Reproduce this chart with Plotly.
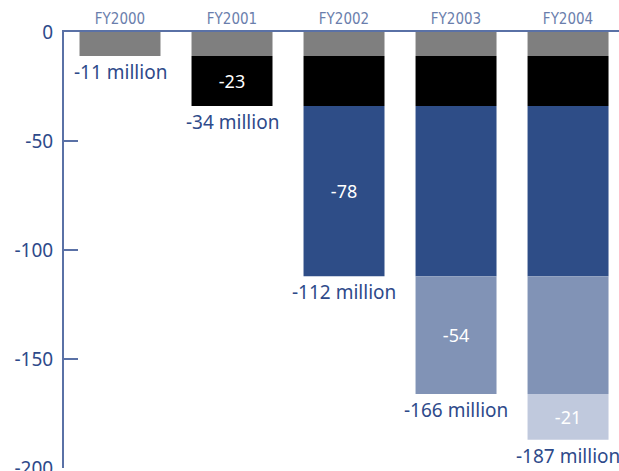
import plotly.graph_objects as go

categories = ["FY2000", "FY2001", "FY2002", "FY2003", "FY2004"]
series_names = ["FY2000 cut", "FY2001 cut", "FY2002 cut", "FY2003 cut", "FY2004 cut"]
series_values = [
    [-11, -11, -11, -11, -11],
    [None, -23, -23, -23, -23],
    [None, None, -78, -78, -78],
    [None, None, None, -54, -54],
    [None, None, None, None, -21],
]
colors = ["#7f7f7f", "#000000", "#2e4d87", "#8193b6", "#c0c9dd"]
totals = [-11, -34, -112, -166, -187]
total_labels = ["-11 million", "-34 million", "-112 million", "-166 million", "-187 million"]
yticks = [0, -50, -100, -150, -200]
ytick_text = ["0", "-50", "-100", "-150", "-200"]

AXIS = "#5a71a6"
DARK = "#2e4a8a"
FONT = "Noto Sans"

fig = go.Figure()
for i, (name, vals, col) in enumerate(zip(series_names, series_values, colors)):
    text = []
    for j, v in enumerate(vals):
        if v is not None and j == i and i > 0:
            text.append(str(v))
        else:
            text.append("")
    fig.add_trace(go.Bar(
        x=categories, y=vals, name=name, marker=dict(color=col, line=dict(width=0)),
        text=text, textposition="inside", insidetextanchor="middle", textangle=0,
        textfont=dict(color="white", size=18, family=FONT),
        hoverinfo="skip",
    ))

for c, t, lab in zip(categories, totals, total_labels):
    fig.add_annotation(x=c, y=t, text=lab, showarrow=False, yanchor="top",
                       yshift=-1, font=dict(color=DARK, size=19, family=FONT))

fig.update_layout(
    barmode="relative", bargap=0.277, showlegend=False,
    width=619, height=471, margin=dict(l=64, r=0, t=32, b=3, autoexpand=False),
    plot_bgcolor="white", paper_bgcolor="white",
    uniformtext=dict(minsize=8, mode="show"),
)
fig.update_xaxes(side="top", showline=True, linecolor=AXIS, linewidth=2,
                 ticks="", range=[-0.5, 4.455], showgrid=False, automargin=False,
                 tickfont=dict(family="DejaVu Sans Condensed, Liberation Sans", size=15, color="#6a7eac"))
fig.update_yaxes(range=[-200, 0], tickvals=yticks, ticktext=ytick_text, showline=True,
                 linecolor=AXIS, linewidth=2, ticks="inside", ticklen=14, tickwidth=2,
                 tickcolor=AXIS, showgrid=False, zeroline=False, ticklabeloverflow="allow",
                 automargin=False,
                 tickfont=dict(family=FONT, size=19, color=DARK), ticklabelstandoff=5)

fig.write_html("out.html")
